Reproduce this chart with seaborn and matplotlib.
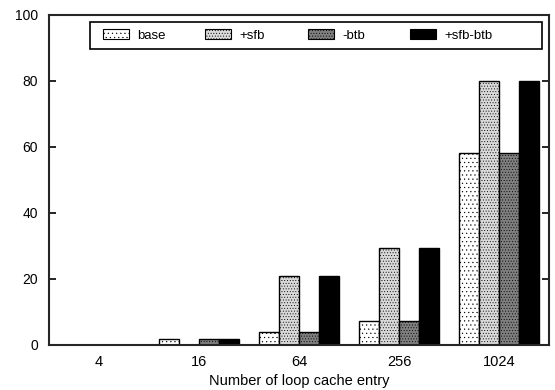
import pandas as pd
import matplotlib
matplotlib.use("Agg")
import matplotlib.pyplot as plt
import seaborn as sns
from matplotlib.patches import Patch, Rectangle

# data
entries = ["4", "16", "64", "256", "1024"]
configs = ["base", "+sfb", "-btb", "+sfb-btb"]
base = [0, 1.7, 4.0, 7.3, 58.2]
sfb = [0, 0, 20.9, 29.3, 80.0]
btb = [0, 1.7, 4.0, 7.3, 58.2]
sfb_btb = [0, 1.7, 20.9, 29.3, 80.0]

rows = []
for name, vals in zip(configs, [base, sfb, btb, sfb_btb]):
    for e, v in zip(entries, vals):
        rows.append({"entries": e, "config": name, "value": v})
df = pd.DataFrame(rows)

sns.set_style("ticks")
plt.rcParams["font.family"] = ["Liberation Sans", "DejaVu Sans"]
plt.rcParams["hatch.linewidth"] = 0.35
plt.rcParams["text.color"] = "black"
plt.rcParams["xtick.color"] = "black"
plt.rcParams["ytick.color"] = "black"
plt.rcParams["axes.labelcolor"] = "black"

# face colour / hatch per series
styles = {
    "base": ("white", "...."),
    "+sfb": ("#d9d9d9", "......"),
    "-btb": ("#7f7f7f", "......"),
    "+sfb-btb": ("black", ""),
}

fig = plt.figure(figsize=(5.55, 3.9), dpi=100)
ax = fig.add_axes([49 / 555, 45 / 390, 500 / 555, 330 / 390])

sns.barplot(data=df, x="entries", y="value", hue="config", order=entries,
            hue_order=configs, width=0.8, ax=ax, legend=False)

for cont, name in zip(ax.containers, configs):
    fc, h = styles[name]
    for p in cont:
        p.set_facecolor(fc)
        p.set_hatch(h)
        p.set_edgecolor("black")
        p.set_linewidth(1.0)

ax.set_ylim(0, 100)
ax.set_xlim(-0.5, 4.5)
ax.set_yticks([0, 20, 40, 60, 80, 100])
ax.set_xlabel("Number of loop cache entry", fontsize=10.5, labelpad=4)
ax.set_ylabel("")
ax.tick_params(axis="y", direction="in", length=5, width=1.2, right=True,
               labelsize=10, pad=8)
ax.tick_params(axis="x", length=0, labelsize=10.5, pad=7)
for s in ax.spines.values():
    s.set_linewidth(1.5)
    s.set_visible(True)

# legend frame drawn by hand, one entry per column with equal spacing
ax.add_patch(Rectangle((0.082, 0.897), 0.904, 0.082, transform=ax.transAxes,
                       facecolor="white", edgecolor="black", lw=1.2, zorder=4))
col_x = [0.108, 0.312, 0.518, 0.722]
for x, name in zip(col_x, configs):
    fc, h = styles[name]
    hd = Patch(facecolor=fc, hatch=h, edgecolor="black", linewidth=0.8)
    leg = ax.legend([hd], [name], loc="center left",
                    bbox_to_anchor=(x, 0.938), frameon=False,
                    fontsize=9.5, handlelength=2.0, handleheight=0.75,
                    borderaxespad=0, borderpad=0, handletextpad=0.6)
    leg.set_zorder(5)
    ax.add_artist(leg)
ax.legend_ = None

fig.savefig("out.png", dpi=100)
